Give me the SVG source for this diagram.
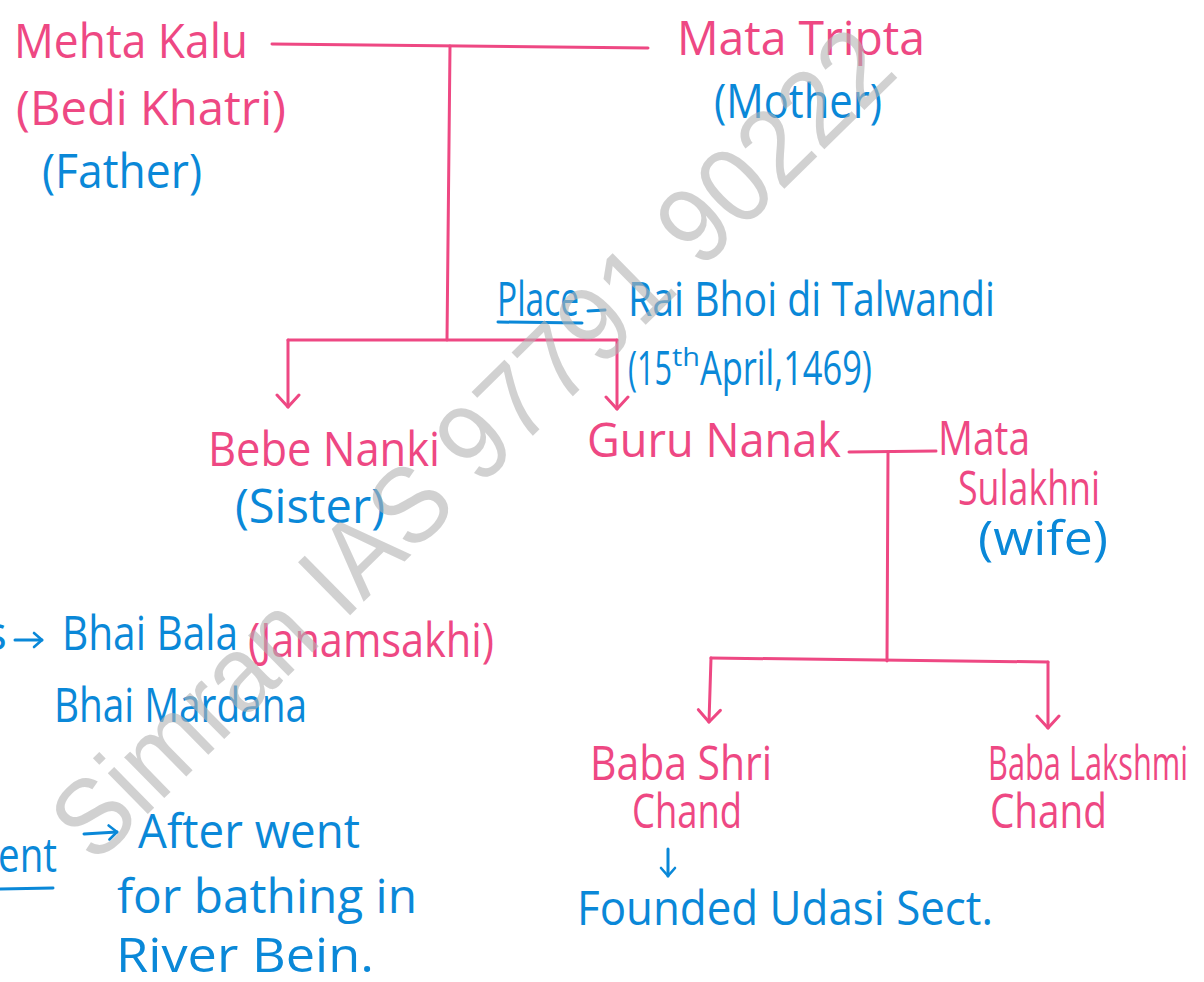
<svg xmlns="http://www.w3.org/2000/svg" width="1204" height="982" viewBox="0 0 1204 982">
<style>
text{font-family:"Open Sans","Liberation Sans",sans-serif;font-size:48px;}
.p{fill:#EE4883;}
.b{fill:#0A88D8;}
.ln{stroke:#EE4883;stroke-width:3;fill:none;stroke-linecap:round;}
.bl{stroke:#0A88D8;stroke-width:3;fill:none;stroke-linecap:round;stroke-linejoin:round;}
.wm{font-family:"Liberation Sans",Arial,sans-serif;font-size:108px;fill:#b4b4b4;opacity:0.6;}
</style>
<defs>
<marker id="ah" markerUnits="userSpaceOnUse" viewBox="-14 -14 28 28" refX="0" refY="0" markerWidth="28" markerHeight="28" orient="auto">
<path d="M-12,-11 L0,0 L-12,11" stroke="#EE4883" stroke-width="3" fill="none" stroke-linecap="round" stroke-linejoin="round"/>
</marker>
<marker id="ahb" markerUnits="userSpaceOnUse" viewBox="-10 -10 20 20" refX="0" refY="0" markerWidth="20" markerHeight="20" orient="auto">
<path d="M-8,-7 L0,0 L-8,7" stroke="#0A88D8" stroke-width="2.6" fill="none" stroke-linecap="round" stroke-linejoin="round"/>
</marker>
</defs>
<rect width="1204" height="982" fill="#ffffff"/>

<g id="connectors">
<path class="ln" d="M272,44 L648,48"/>
<path class="ln" d="M450,46 L447,340"/>
<path class="ln" d="M288,340 L617,340"/>
<path class="ln" d="M288,340 L288,407" marker-end="url(#ah)"/>
<path class="ln" d="M617,340 L617,409" marker-end="url(#ah)"/>
<path class="ln" d="M849,452 L936,451"/>
<path class="ln" d="M888,452 L887,661"/>
<path class="ln" d="M711,658 L1048,662"/>
<path class="ln" d="M711,658 L709,722" marker-end="url(#ah)"/>
<path class="ln" d="M1048,662 L1048,728" marker-end="url(#ah)"/>
<path class="bl" d="M668,849 L668,876" marker-end="url(#ahb)"/>
<path class="bl" d="M15,640 L42,640" marker-end="url(#ahb)"/>
<path class="bl" d="M84,834 L117,832" marker-end="url(#ahb)"/>
</g>

<g id="mehta-kalu">
<text><tspan class="p" x="14" y="58" textLength="234" lengthAdjust="spacingAndGlyphs">Mehta Kalu</tspan><tspan class="p" x="16" y="125" textLength="270" lengthAdjust="spacingAndGlyphs">(Bedi Khatri)</tspan><tspan class="b" x="42" y="188" textLength="160" lengthAdjust="spacingAndGlyphs">(Father)</tspan></text>
</g>

<g id="mata-tripta">
<text><tspan class="p" x="677" y="55" textLength="248" lengthAdjust="spacingAndGlyphs">Mata Tripta</tspan><tspan class="b" x="714" y="118" textLength="168" lengthAdjust="spacingAndGlyphs">(Mother)</tspan></text>
</g>

<g id="birth-place">
<text class="b" x="497" y="316" textLength="82" lengthAdjust="spacingAndGlyphs">Place</text>
<path class="bl" d="M498,322 L582,323"/>
<path class="bl" d="M588,311 L605,310"/>
<text class="b" x="628" y="316" textLength="367" lengthAdjust="spacingAndGlyphs">Rai Bhoi di Talwandi</text>
<text class="b" x="628" y="385"><tspan textLength="44" lengthAdjust="spacingAndGlyphs">(15</tspan><tspan x="672" dy="-19" style="font-size:26px" textLength="28" lengthAdjust="spacingAndGlyphs">th</tspan><tspan x="700" dy="19" textLength="172" lengthAdjust="spacingAndGlyphs">April,1469)</tspan></text>
</g>

<g id="bebe-nanki">
<text><tspan class="p" x="208" y="466" textLength="232" lengthAdjust="spacingAndGlyphs">Bebe Nanki</tspan><tspan class="b" x="235" y="523" textLength="150" lengthAdjust="spacingAndGlyphs">(Sister)</tspan></text>
</g>

<g id="guru-nanak">
<text class="p" x="587" y="457" textLength="254" lengthAdjust="spacingAndGlyphs">Guru Nanak</text>
</g>

<g id="mata-sulakhni">
<text><tspan class="p" x="938" y="455" textLength="92" lengthAdjust="spacingAndGlyphs">Mata</tspan><tspan class="p" x="958" y="505" textLength="142" lengthAdjust="spacingAndGlyphs">Sulakhni</tspan><tspan class="b" x="978" y="555" textLength="130" lengthAdjust="spacingAndGlyphs">(wife)</tspan></text>
</g>

<g id="baba-shri-chand">
<text><tspan class="p" x="590" y="780" textLength="182" lengthAdjust="spacingAndGlyphs">Baba Shri</tspan><tspan class="p" x="632" y="828" textLength="110" lengthAdjust="spacingAndGlyphs">Chand</tspan></text>
<text class="b" x="577" y="925" textLength="416" lengthAdjust="spacingAndGlyphs">Founded Udasi Sect.</text>
</g>

<g id="baba-lakshmi-chand">
<text><tspan class="p" x="988" y="780" textLength="200" lengthAdjust="spacingAndGlyphs">Baba Lakshmi</tspan><tspan class="p" x="990" y="828" textLength="117" lengthAdjust="spacingAndGlyphs">Chand</tspan></text>
</g>

<g id="companions">
<text class="b" x="-16" y="650">s</text>
<text><tspan class="b" x="62" y="650" textLength="176" lengthAdjust="spacingAndGlyphs">Bhai Bala</tspan><tspan class="p" x="248" y="657" textLength="246" lengthAdjust="spacingAndGlyphs">(Janamsakhi)</tspan><tspan class="b" x="54" y="722" textLength="253" lengthAdjust="spacingAndGlyphs">Bhai Mardana</tspan></text>
</g>

<g id="enlightenment">
<text class="b" x="-2" y="872" textLength="59" lengthAdjust="spacingAndGlyphs">ent</text>
<path class="bl" d="M0,889 L53,888"/>
<text><tspan class="b" x="138" y="848" textLength="222" lengthAdjust="spacingAndGlyphs">After went</tspan><tspan class="b" x="117" y="913" textLength="300" lengthAdjust="spacingAndGlyphs">for bathing in</tspan><tspan class="b" x="116" y="972" textLength="258" lengthAdjust="spacingAndGlyphs">River Bein.</tspan></text>
</g>

<g id="watermark">
<text class="wm" x="95" y="866" textLength="1130" lengthAdjust="spacingAndGlyphs" transform="rotate(-44.5 95 866)">Simran IAS 97791 90222</text>
</g>
</svg>
